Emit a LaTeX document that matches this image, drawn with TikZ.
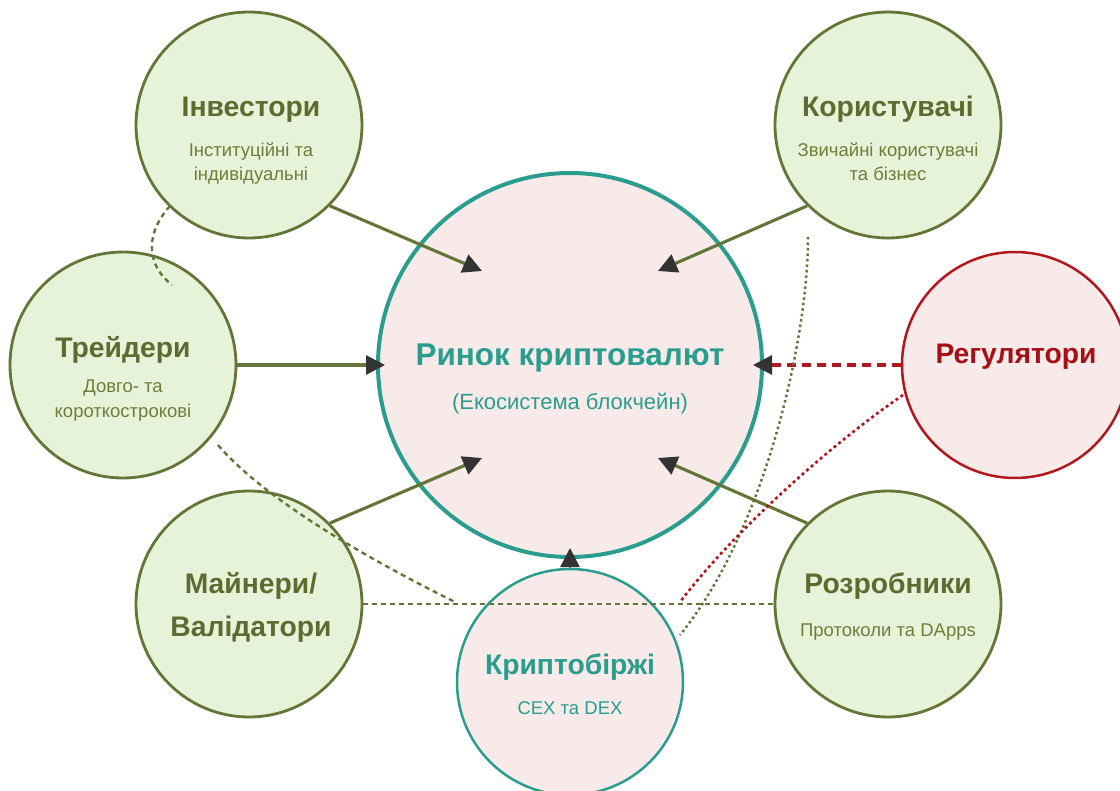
\documentclass[tikz,border=0pt]{standalone}
\usepackage{fontspec}
\setmainfont{Liberation Sans}
\usetikzlibrary{arrows.meta}
\definecolor{gfill}{HTML}{E6F3D9}
\definecolor{gline}{HTML}{637537}
\definecolor{gtitle}{HTML}{5E6B30}
\definecolor{gsub}{HTML}{6E7D3A}
\definecolor{pfill}{HTML}{F7EAE8}
\definecolor{teal}{HTML}{2A9D8F}
\definecolor{rline}{HTML}{B2171D}
\definecolor{rtext}{HTML}{A50F15}
\definecolor{tipc}{HTML}{333333}
\begin{document}
\begin{tikzpicture}[x=1pt,y=-1pt,
  gnode/.style={circle,draw=gline,fill=gfill,line width=2.8pt,minimum size=226pt,inner sep=0pt},
  mnode/.style={circle,draw=teal,fill=pfill,line width=4pt,minimum size=384pt,inner sep=0pt},
  enode/.style={circle,draw=teal,fill=pfill,line width=2.5pt,minimum size=226pt,inner sep=0pt},
  rnode/.style={circle,draw=rline,fill=pfill,line width=2.5pt,minimum size=226pt,inner sep=0pt},
  gttl/.style={anchor=base,text=gtitle,font=\fontsize{28.3}{33}\selectfont\bfseries,inner sep=0pt},
  gsb/.style={anchor=base,text=gsub,font=\fontsize{18.5}{22}\selectfont,inner sep=0pt},
  arr/.style={line width=3.1pt,draw=gline,-{Triangle[length=19pt,width=19pt,color=tipc]}},
  olivedash/.style={draw=gline,line width=2.4pt,dash pattern=on 5pt off 4pt},
  olivedot/.style={draw=gline,line width=2.5pt,dash pattern=on 2.5pt off 3pt},
  reddot/.style={draw=rline,line width=2.6pt,dash pattern=on 3pt off 3pt}
]
\useasboundingbox (0,0) rectangle (1120,791);
\clip (0,0) rectangle (1120,791);

% circles
\node[mnode] (mkt) at (570,365) {};
\node[gnode] (inv) at (249,125) {};
\node[gnode] (usr) at (888,125) {};
\node[gnode] (trd) at (123,365) {};
\node[rnode] (reg) at (1015,365) {};
\node[gnode] (min) at (249,604) {};
\node[gnode] (dev) at (888,604) {};
\node[enode] (exc) at (570,682) {};

% arrow targets
\coordinate (tUL) at (482,271);
\coordinate (tUR) at (658,271);
\coordinate (tLL) at (482,458);
\coordinate (tLR) at (658,458);
\coordinate (tL) at (385,365);
\coordinate (tR) at (753,365);
\coordinate (tB) at (570,548);

% arrows
\draw[arr] (inv.south east) -- (tUL);
\draw[arr] (usr.south west) -- (tUR);
\draw[arr] (trd.east) -- (tL);
\draw[arr] (min.north east) -- (tLL);
\draw[arr] (dev.north west) -- (tLR);
\draw[arr,draw=teal,line width=2.5pt] (exc.north) -- (tB);
\draw[arr,draw=rline,dash pattern=on 9pt off 6pt] (reg.west) -- (tR);

% dashed relations
\coordinate (a1) at (170,206);
\coordinate (a2) at (172,285);
\draw[olivedash] (a1) .. controls (148,230) and (143,262) .. (a2);
\coordinate (b1) at (218,445);
\coordinate (b2) at (455,602);
\draw[olivedash] (b1) .. controls (265,500) and (370,560) .. (b2);
\draw[olivedash] (min.east) -- (dev.west);
\coordinate (c1) at (808,237);
\coordinate (c2) at (680,635);
\draw[olivedot] (c1) .. controls (808,340) and (765,530) .. (c2);
\coordinate (d1) at (903,395);
\coordinate (d2) at (680,602);
\draw[reddot] (d1) .. controls (830,445) and (735,530) .. (d2);

% texts
\node[anchor=base,text=teal,font=\fontsize{31.5}{36}\selectfont\bfseries,inner sep=0pt] (mkt-t) at (570,366) {Ринок криптовалют};
\node[anchor=base,text=teal,font=\fontsize{22}{26}\selectfont,inner sep=0pt] (mkt-s) at (570,410) {(Екосистема блокчейн)};

\node[gttl] (inv-t) at (251,117) {Інвестори};
\node[gsb] (inv-s1) at (251,157) {Інституційні та};
\node[gsb] (inv-s2) at (251,181) {індивідуальні};

\node[gttl] (usr-t) at (888,117) {Користувачі};
\node[gsb] (usr-s1) at (888,157) {Звичайні користувачі};
\node[gsb] (usr-s2) at (888,181) {та бізнес};

\node[gttl] (trd-t) at (123,358) {Трейдери};
\node[gsb] (trd-s1) at (123,393) {Довго- та};
\node[gsb] (trd-s2) at (123,418) {короткострокові};

\node[anchor=base,text=rtext,font=\fontsize{28.3}{33}\selectfont\bfseries,inner sep=0pt] (reg-t) at (1016,364) {Регулятори};

\node[gttl] (min-t) at (251,594) {Майнери/};
\node[gttl] (min-t2) at (251,636) {Валідатори};

\node[gttl] (dev-t) at (888,594) {Розробники};
\node[gsb] (dev-s) at (888,636) {Протоколи та DApps};

\node[anchor=base,text=teal,font=\fontsize{28.3}{33}\selectfont\bfseries,inner sep=0pt] (exc-t) at (570,674) {Криптобіржі};
\node[anchor=base,text=teal,font=\fontsize{18.5}{22}\selectfont,inner sep=0pt] (exc-s) at (570,714) {CEX та DEX};
\end{tikzpicture}
\end{document}
